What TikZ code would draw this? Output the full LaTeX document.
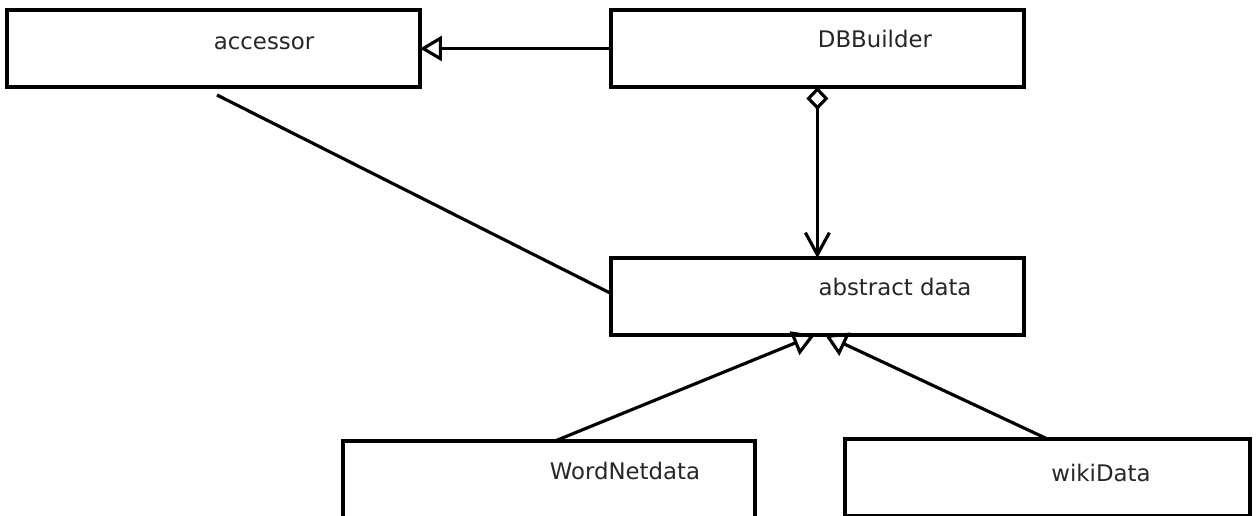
\documentclass[tikz,border=0pt]{standalone}
\usepackage{fontspec}
\setmainfont{DejaVu Sans}
\usepackage{tikz}
\usetikzlibrary{arrows.meta, positioning}

\begin{document}
\begin{tikzpicture}[
  x=0.02cm, y=-0.02cm,
  line width=1.8pt,
  box/.style={rectangle, draw, line width=2.2pt, minimum width=8.26cm, minimum height=1.54cm, inner sep=0pt, outer sep=0pt},
  lbl/.style={anchor=base, inner sep=0pt, font=\fontsize{13}{15}\selectfont, text=black!85},
  inherit/.style={-{Triangle[open, length=0.44cm, width=0.5cm]}},
  owns/.style={{Diamond[open, length=0.46cm, width=0.44cm]}-{Straight Barb[length=0.44cm, width=0.48cm]}}
]
  \useasboundingbox (0,0) rectangle (1258,516);
  % boxes
  \node[box] (acc) at (213.5,48.5) {};
  \node[box, right=3.82cm of acc] (dbb) {};
  \node[box, below=3.42cm of dbb] (abs) {};
  \node[box, minimum width=8.24cm] (wnd) at (549,479.5) {};
  \node[box, minimum width=8.1cm] (wiki) at (1047.5,477.5) {};
  % names
  \node[lbl] (acc-t) at (264,50) {accessor};
  \node[lbl] (dbb-t) at (875,48) {DBBuilder};
  \node[lbl] (abs-t) at (895,296) {abstract data};
  \node[lbl] (wnd-t) at (625,480) {WordNetdata};
  \node[lbl] (wiki-t) at (1101,482) {wikiData};
  % links
  \coordinate (acc-tail) at (217,95);
  \draw[inherit] (dbb.west) -- (acc.east);
  \draw (acc-tail) -- ([yshift=0.06cm]abs.west);
  \draw[owns] (dbb.south) -- (abs.north);
  \draw[inherit] ([xshift=0.12cm]wnd.north) -- ([xshift=-0.05cm]abs.south);
  \draw[inherit] (wiki.north) -- ([xshift=0.15cm]abs.south);
\end{tikzpicture}
\end{document}
